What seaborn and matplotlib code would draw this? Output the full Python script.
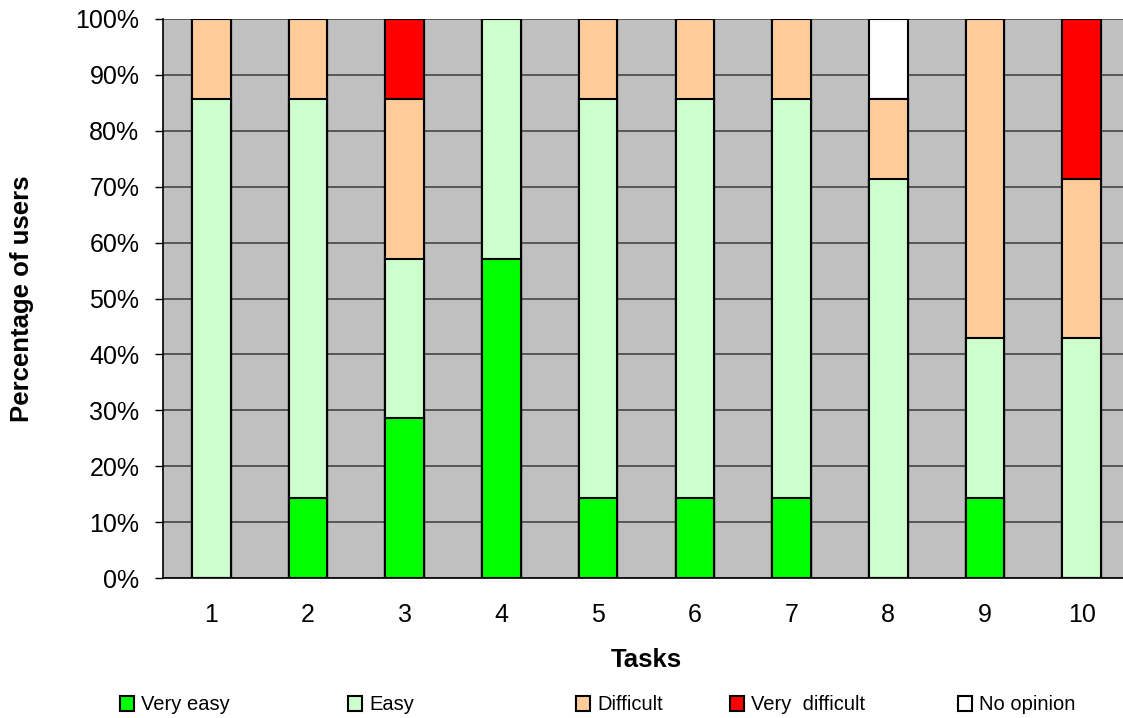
import matplotlib
matplotlib.use("Agg")
import matplotlib.pyplot as plt
from matplotlib.patches import Patch
from matplotlib import font_manager
import seaborn as sns
import pandas as pd
import numpy as np

# Share of users per rating, for each task (7 users -> steps of 1/7)
tasks = ["1", "2", "3", "4", "5", "6", "7", "8", "9", "10"]
very_easy = [0.0, 14.29, 28.57, 57.14, 14.29, 14.29, 14.29, 0.0, 14.29, 0.0]
easy = [85.71, 71.43, 28.57, 42.86, 71.43, 71.43, 71.43, 71.43, 28.57, 42.86]
difficult = [14.29, 14.29, 28.57, 0.0, 14.29, 14.29, 14.29, 14.29, 57.14, 28.57]
very_difficult = [0.0, 0.0, 14.29, 0.0, 0.0, 0.0, 0.0, 0.0, 0.0, 28.57]
no_opinion = [0.0, 0.0, 0.0, 0.0, 0.0, 0.0, 0.0, 14.29, 0.0, 0.0]

ratings = ["Very easy", "Easy", "Difficult", "Very  difficult", "No opinion"]
colors = ["#00FF00", "#CCFFCC", "#FFCC99", "#FF0000", "#FFFFFF"]
series = [very_easy, easy, difficult, very_difficult, no_opinion]

sns.set_theme(style="white")
available = {f.name for f in font_manager.fontManager.ttflist}
base_font = "Liberation Sans" if "Liberation Sans" in available else "DejaVu Sans"
plt.rcParams["font.family"] = [base_font, "DejaVu Sans"]
plt.rcParams.update({
    "text.color": "black",
    "axes.labelcolor": "black",
    "xtick.color": "black",
    "ytick.color": "black",
})

fig = plt.figure(figsize=(11.23, 7.18), dpi=100)
ax = fig.add_axes([163 / 1123, 1 - 578 / 718, 967 / 1123, (578 - 19) / 718])
ax.set_facecolor("#C0C0C0")

# Stacked bars: draw cumulative totals from the top segment down so each
# lower segment covers the one above it.
cum = np.cumsum(np.array(series), axis=0)
for i in range(len(series) - 1, -1, -1):
    df = pd.DataFrame({"task": tasks, "value": cum[i]})
    sns.barplot(data=df, x="task", y="value", color=colors[i], saturation=1,
                width=0.4, edgecolor="black", linewidth=1.5, ax=ax, zorder=3)

ax.set_ylim(0, 100)
ax.set_xlim(-0.5, len(tasks) - 0.5)
ax.set_yticks(np.arange(0, 101, 10))
ax.set_yticklabels([f"{v}%" for v in range(0, 101, 10)], fontsize=18)
ax.yaxis.grid(True, color="#3a3a3a", linewidth=1.1, zorder=1)
ax.set_axisbelow(True)

# Category labels centred, tick marks at category boundaries
ax.set_xticks(np.arange(len(tasks)))
ax.set_xticklabels(tasks, fontsize=18)
ax.tick_params(axis="x", which="major", length=0, pad=18)
ax.set_xticks(np.arange(len(tasks) + 1) - 0.5, minor=True)
ax.tick_params(axis="x", which="minor", length=6, width=1, color="black", direction="out")
ax.tick_params(axis="y", length=6, width=1, color="black", direction="out", left=True, pad=11)

for side in ["top", "right"]:
    ax.spines[side].set_visible(False)
for side in ["left", "bottom"]:
    ax.spines[side].set_color("black")
    ax.spines[side].set_linewidth(1.2)

ax.set_xlabel("Tasks", fontsize=18.5, fontweight="bold", labelpad=15, color="black")
ax.set_ylabel("Percentage of users", fontsize=18.5, fontweight="bold", labelpad=30, color="black")

# Legend entries spread along the bottom
legend_x = [120, 348, 576, 730, 958]
for name, col, xpix in zip(ratings, colors, legend_x):
    h = Patch(facecolor=col, edgecolor="black", linewidth=1.5)
    leg = fig.legend([h], [name], loc="center left",
                     bbox_to_anchor=(xpix / 1123, 1 - 705 / 718), frameon=False,
                     handlelength=0.7, handleheight=0.7, handletextpad=0.35,
                     borderpad=0, borderaxespad=0,
                     prop={"size": 14.5})
    for t in leg.get_texts():
        t.set_color("black")

fig.savefig("out.png", dpi=100)
